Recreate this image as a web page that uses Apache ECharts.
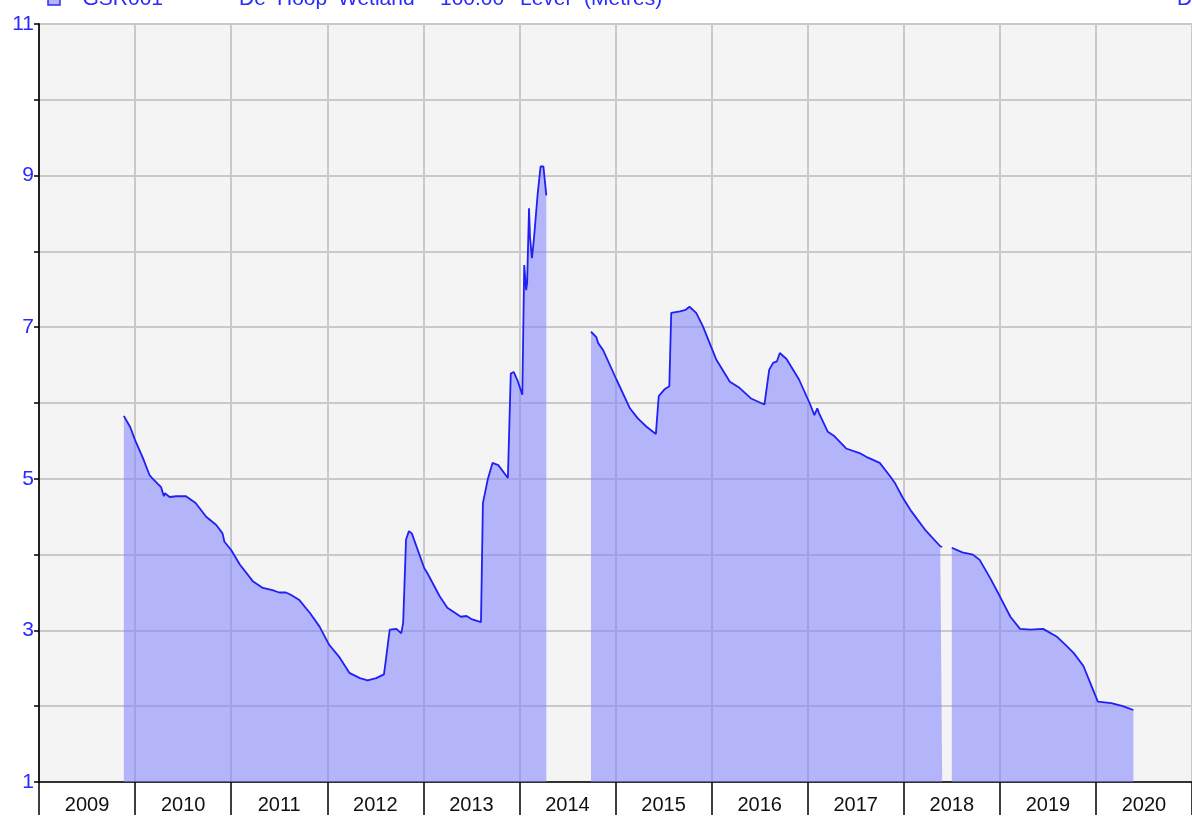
<!DOCTYPE html>
<html>
<head>
<meta charset="utf-8">
<script src="https://cdn.jsdelivr.net/npm/echarts@6/dist/echarts.min.js"></script>
<style>
html,body{margin:0;padding:0;background:#fff;}
#chart{width:1192px;height:817px;}
</style>
</head>
<body>
<div id="chart"></div>
<script>
// Decimal-year positions and water level (m); null marks a gap in the record
const years = [
  2009.883, 2009.95, 2010.00, 2010.08, 2010.15, 2010.17, 2010.27, 2010.30, 2010.31, 2010.36,
  2010.43, 2010.53, 2010.63, 2010.74, 2010.845, 2010.91, 2010.93, 2011.00, 2011.09, 2011.225,
  2011.33, 2011.43, 2011.50, 2011.57, 2011.62, 2011.64, 2011.71, 2011.82, 2011.92, 2012.02,
  2012.13, 2012.23, 2012.34, 2012.42, 2012.51, 2012.59, 2012.61, 2012.65, 2012.72, 2012.77,
  2012.79, 2012.82, 2012.85, 2012.88, 2013.01, 2013.04, 2013.17, 2013.25, 2013.39, 2013.45,
  2013.50, 2013.60, 2013.62, 2013.67, 2013.72, 2013.78, 2013.88, 2013.91, 2013.94, 2013.98,
  2014.03, 2014.05, 2014.07, 2014.08, 2014.10, 2014.11, 2014.13, 2014.15, 2014.19, 2014.22,
  2014.25, 2014.28,
  2014.50,
  2014.745, 2014.80, 2014.82, 2014.87, 2015.01, 2015.15, 2015.23, 2015.32, 2015.42, 2015.45,
  2015.51, 2015.56, 2015.58, 2015.67, 2015.73, 2015.77, 2015.84, 2015.91, 2016.05, 2016.19,
  2016.29, 2016.41, 2016.55, 2016.60, 2016.64, 2016.68, 2016.71, 2016.78, 2016.91, 2017.02,
  2017.07, 2017.10, 2017.12, 2017.21, 2017.28, 2017.40, 2017.54, 2017.61, 2017.62, 2017.75,
  2017.86, 2017.91, 2017.99, 2018.08, 2018.22, 2018.38, 2018.40,
  2018.45,
  2018.50, 2018.61, 2018.72, 2018.79, 2018.90, 2019.00, 2019.11, 2019.21, 2019.32, 2019.45,
  2019.59, 2019.70, 2019.77, 2019.87, 2019.94, 2020.02, 2020.16, 2020.28, 2020.39
];
const levels = [
  5.83, 5.68, 5.51, 5.28, 5.05, 5.02, 4.89, 4.77, 4.81, 4.76,
  4.77, 4.77, 4.68, 4.50, 4.39, 4.28, 4.17, 4.06, 3.87, 3.65,
  3.56, 3.53, 3.50, 3.50, 3.47, 3.49, 3.40, 3.23, 3.05, 2.81,
  2.64, 2.44, 2.37, 2.34, 2.37, 2.42, 2.61, 3.01, 3.02, 2.96,
  3.10, 4.20, 4.31, 4.28, 3.82, 3.76, 3.45, 3.30, 3.18, 3.19,
  3.15, 3.11, 4.68, 4.99, 5.21, 5.18, 5.01, 6.39, 6.41, 6.30,
  6.11, 7.82, 7.49, 7.58, 8.57, 8.20, 7.91, 8.15, 8.76, 9.12,
  9.12, 8.74,
  null,
  6.94, 6.87, 6.79, 6.70, 6.31, 5.93, 5.80, 5.69, 5.59, 6.09,
  6.18, 6.22, 7.19, 7.21, 7.23, 7.27, 7.19, 7.01, 6.57, 6.28,
  6.20, 6.06, 5.98, 6.44, 6.53, 6.55, 6.66, 6.58, 6.31, 6.00,
  5.84, 5.93, 5.86, 5.62, 5.56, 5.40, 5.34, 5.29, 5.31, 5.21,
  5.03, 4.94, 4.75, 4.57, 4.33, 4.11, 4.10,
  null,
  4.09, 4.03, 4.00, 3.93, 3.69, 3.45, 3.18, 3.02, 3.01, 3.02,
  2.92, 2.79, 2.70, 2.53, 2.31, 2.06, 2.04, 2.00, 1.95
];
const yearLabels = ['2009','2010','2011','2012','2013','2014','2015','2016','2017','2018','2019','2020'];
const legendWords = [
  {t:'GSR001', x:82.5},
  {t:'De', x:239}, {t:'Hoop', x:277}, {t:'Wetland', x:338}, {t:'-', x:424},
  {t:'100.00', x:440}, {t:'Level', x:520}, {t:'(Metres)', x:584},
  {t:'D', x:1177}
];

const seriesData = years.map((y, i) => [y, levels[i] === null ? null : levels[i]]);
const FONT = '"Liberation Sans", Arial, sans-serif';

const chart = echarts.init(document.getElementById('chart'), null, {renderer:'canvas'});
chart.setOption({
  animation: false,
  backgroundColor: '#ffffff',
  grid: {
    left: 39, right: -1, top: 24, bottom: 35,
    show: true, backgroundColor: '#f4f4f4',
    borderColor: '#555555', borderWidth: 1.5,
    containLabel: false
  },
  xAxis: [
    {
      type: 'value', min: 2009, max: 2021, interval: 1,
      position: 'bottom',
      axisLine: {show: true, onZero: false, lineStyle: {color: '#000', width: 1.5}},
      axisTick: {show: true, length: 33, lineStyle: {color: '#000', width: 1.5}},
      axisLabel: {show: false},
      splitLine: {show: true, lineStyle: {color: '#c9c9c9', width: 2}}
    },
    {
      type: 'category', data: yearLabels, boundaryGap: true,
      position: 'bottom',
      axisLine: {show: false}, axisTick: {show: false}, splitLine: {show: false},
      axisLabel: {show: true, color: '#111', fontSize: 20, fontFamily: FONT, margin: 13, interval: 0}
    }
  ],
  yAxis: {
    type: 'value', min: 1, max: 11, interval: 1,
    axisLine: {show: true, onZero: false, lineStyle: {color: '#222', width: 2}},
    axisTick: {show: true, length: 5, lineStyle: {color: '#000', width: 1.5}},
    axisLabel: {
      color: '#2a2aff', fontSize: 21, fontFamily: FONT, margin: 5,
      formatter: v => (Math.round(v) % 2 === 1 ? String(v) : '')
    },
    splitLine: {show: true, lineStyle: {color: '#c9c9c9', width: 2}}
  },
  series: [{
    type: 'line',
    xAxisIndex: 0,
    data: seriesData,
    showSymbol: false,
    connectNulls: false,
    lineStyle: {color: '#2020f5', width: 1.8},
    areaStyle: {color: 'rgba(128,130,255,0.56)', opacity: 1, origin: 'start'},
    z: 3
  }],
  graphic: [
    {type: 'rect', shape: {x: 48, y: -7, width: 12, height: 12},
     style: {fill: '#b3b5f9', stroke: '#2a2aff', lineWidth: 1.5}, z: 10}
  ].concat(legendWords.map(w => ({
    type: 'text', x: w.x, y: -1, z: 10,
    style: {text: w.t, fill: '#2a2aff', font: '21px ' + FONT, verticalAlign: 'middle', align: 'left'}
  })))
});
</script>
</body>
</html>
